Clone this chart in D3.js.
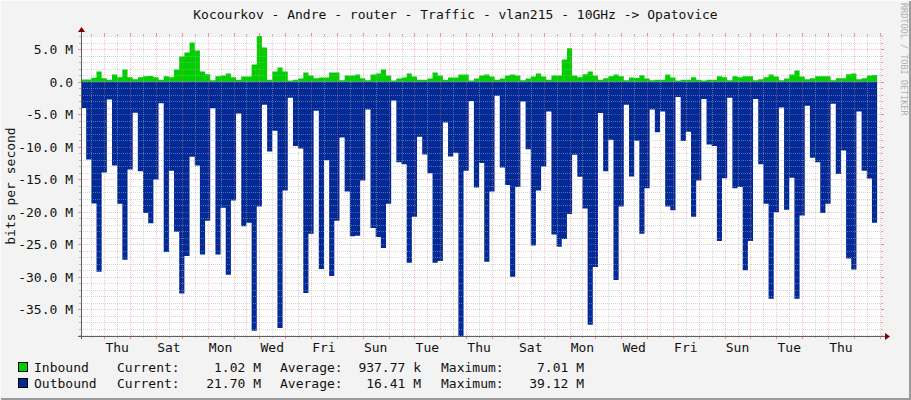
<!DOCTYPE html>
<html><head><meta charset="utf-8">
<script src="https://cdn.jsdelivr.net/npm/d3@7"></script>
<style>
html,body{margin:0;padding:0;background:#f3f3f3}
svg{display:block}
text{font-family:"DejaVu Sans Mono",monospace}
</style>
</head><body>
<svg id="c" width="911" height="400"></svg>
<script>
// ---- data (Mbit/s), one value per 4.8 h step ----
const inbound = [
0.31,0.31,0.6,1.54,0.5,0.3,1.08,0.67,1.85,0.67,0.36,0.67,0.82,0.87,0.67,0.3,0.82,0.67,1.85,3.85,4.47,6.0,4.78,1.54,1.13,0.2,0.82,0.92,1.23,0.67,0.3,
0.77,0.77,2.62,7.01,5.24,0.3,1.54,2.16,1.54,0.15,0.3,0.46,1.39,0.92,0.51,0.62,0.62,1.39,1.39,0.2,0.92,0.92,1.08,0.51,0.2,1.08,1.23,1.85,0.92,0.15,0.46,
0.62,1.23,0.77,0.3,0.3,0.46,1.39,0.92,0.3,0.62,0.62,1.08,1.08,0.15,0.46,0.92,1.08,0.77,0.3,0.46,0.92,1.08,0.92,0.2,0.46,0.77,1.23,0.77,0.3,0.92,0.92,
3.39,5.14,0.92,0.67,1.13,1.54,0.92,0.3,0.51,0.82,1.08,0.82,0.2,0.62,0.56,0.98,0.46,0.2,0.3,0.3,1.08,0.62,0.15,0.3,0.3,0.67,0.3,0.15,0.3,0.3,0.82,
0.67,0.2,0.82,0.67,0.82,0.82,0.2,0.36,0.67,1.08,0.77,0.2,0.46,1.08,1.7,0.77,0.36,0.51,0.82,0.82,0.82,0.2,0.51,0.51,1.13,1.23,0.36,0.51,0.92,1.02
];
const outbound = [
4.06,11.97,18.76,29.24,13.98,2.77,12.9,18.8,27.4,13.5,4.78,13.8,20.2,21.8,15.06,3.34,26.2,13.7,23.1,32.6,26.8,11.56,12.9,26.6,21.4,4.1,26.6,19.4,29.7,18.3,4.9,
22.25,21.7,38.3,19.2,3.55,10.74,7.55,37.9,16.75,2.5,9.9,10.3,32.5,23.4,4.5,28.8,12.1,29.9,21.4,8.6,16.9,23.8,23.7,15.2,4.3,22.5,23.9,25.6,18.8,2.9,12.4,
12.7,27.85,20.8,8.5,11.2,14.1,27.85,27.6,6.3,11.5,10.95,39.12,13.7,3.0,16.3,12.5,27.7,16.9,2.16,13.2,15.9,30.0,16.2,3.08,10.4,25.2,16.75,13.05,4.6,23.5,25.4,
24.2,20.35,11.25,14.65,19.5,37.4,28.5,4.83,13.8,8.94,30.5,19.2,3.55,14.6,9.1,23.4,16.4,4.3,7.8,4.6,19.2,19.8,2.36,9.15,7.7,20.8,15.2,2.67,9.66,9.9,24.5,
14.85,2.47,16.4,16.2,29.0,24.5,2.67,12.7,18.8,33.4,20.1,4.0,19.7,14.8,33.4,20.6,3.7,11.7,12.4,20.2,18.8,3.4,14.2,10.6,27.2,28.9,4.6,13.7,14.9,21.7
];
const yTickValues = [5,0,-5,-10,-15,-20,-25,-30,-35];
const yTickLabels = ["5.0 M","0.0","-5.0 M","-10.0 M","-15.0 M","-20.0 M","-25.0 M","-30.0 M","-35.0 M"];
const dayLabels = ["Thu","Sat","Mon","Wed","Fri","Sun","Tue","Thu","Sat","Mon","Wed","Fri","Sun","Tue","Thu"];
const seriesNames = ["Inbound","Outbound"];
const seriesColors = ["#00CF00","#002A97"];
const legendCurrent = ["1.02 M","21.70 M"];
const legendAverage = ["937.77 k","16.41 M"];
const legendMaximum = ["7.01 M","39.12 M"];
const titleText = "Kocourkov - Andre - router - Traffic - vlan215 - 10GHz -> Opatovice";

// ---- layout ----
const DAY = 864e5;
const day0 = Date.UTC(2012,2,1);           // a Thursday
const tStart = day0 - 0.9*DAY, tEnd = day0 + 30.05*DAY;
const stepMs = 0.2*DAY;
const X0=81, X1=881, YT=36, YB=336;

const svg = d3.select("#c");
const x = d3.scaleUtc().domain([new Date(tStart), new Date(tEnd)]).range([X0, X1]);
const y = d3.scaleLinear().domain([-39.12, 7.01]).range([YB, YT]);

// background & frame
svg.append("rect").attr("x",0).attr("y",0).attr("width",911).attr("height",400).attr("fill","#f3f3f3");
svg.append("rect").attr("x",X0).attr("y",YT).attr("width",X1-X0).attr("height",YB-YT).attr("fill","#ffffff");
svg.append("path").attr("d","M0,399V0H910").attr("stroke","#fcfcfc").attr("stroke-width",2).attr("fill","none");
svg.append("path").attr("d","M1,399H910V1").attr("stroke","#9b9b9b").attr("stroke-width",2).attr("fill","none");

// title
svg.append("text").attr("x",455.5).attr("y",19).attr("text-anchor","middle")
  .attr("font-size",13).attr("fill","#111").text(titleText);
// watermark
svg.append("text").attr("transform","translate(901,3) rotate(90)")
  .attr("font-size",8.5).attr("fill","#b0b0b0").text("RRDTOOL / TOBI OETIKER");

// data areas
const pts = (arr) => { const p = arr.map((v,i)=>[new Date(tStart+i*stepMs), v]); p.push([new Date(tStart+arr.length*stepMs), arr[arr.length-1]]); return p; };
const areaIn = d3.area().curve(d3.curveStepAfter).x(d=>x(d[0])).y0(y(0)).y1(d=>y(d[1]));
const areaOut = d3.area().curve(d3.curveStepAfter).x(d=>x(d[0])).y0(y(0)).y1(d=>y(-d[1]));
svg.append("path").attr("d",areaOut(pts(outbound))).attr("fill",seriesColors[1]);
svg.append("path").attr("d",areaIn(pts(inbound))).attr("fill",seriesColors[0]);

// grid
const g = svg.append("g").attr("shape-rendering","crispEdges");
const minorCol = "rgba(175,175,175,0.5)", majorCol = "rgba(245,110,110,0.45)";
const hours12 = d3.utcHour.every(12).range(new Date(tStart), new Date(tEnd));
const days = d3.utcDay.range(new Date(tStart), new Date(tEnd));
hours12.filter(d=>d.getUTCHours()!==0).forEach(d=>{
  const xx=Math.round(x(d))+0.5;
  g.append("line").attr("x1",xx).attr("x2",xx).attr("y1",YT).attr("y2",YB).attr("stroke",minorCol).attr("stroke-dasharray","1,1");
  g.append("line").attr("x1",xx).attr("x2",xx).attr("y1",YB).attr("y2",YB+2).attr("stroke","#b8b8b8");
  g.append("line").attr("x1",xx).attr("x2",xx).attr("y1",YT-2).attr("y2",YT).attr("stroke","#b8b8b8");
});
days.forEach(d=>{
  const xx=Math.round(x(d))+0.5;
  g.append("line").attr("x1",xx).attr("x2",xx).attr("y1",YT).attr("y2",YB).attr("stroke",majorCol).attr("stroke-dasharray","1,1");
  g.append("line").attr("x1",xx).attr("x2",xx).attr("y1",YB).attr("y2",YB+3).attr("stroke","#e89090");
  g.append("line").attr("x1",xx).attr("x2",xx).attr("y1",YT-3).attr("y2",YT).attr("stroke","#e89090");
});
d3.range(-39, 8, 1).filter(v=>v%5!==0).forEach(v=>{
  const yy=Math.round(y(v))+0.5;
  g.append("line").attr("x1",X0).attr("x2",X1).attr("y1",yy).attr("y2",yy).attr("stroke",minorCol).attr("stroke-dasharray","1,1");
  g.append("line").attr("x1",X0-2).attr("x2",X0).attr("y1",yy).attr("y2",yy).attr("stroke","#b8b8b8");
  g.append("line").attr("x1",X1).attr("x2",X1+2).attr("y1",yy).attr("y2",yy).attr("stroke","#b8b8b8");
});
yTickValues.forEach((v,i)=>{
  const yy=Math.round(y(v))+0.5;
  g.append("line").attr("x1",X0).attr("x2",X1).attr("y1",yy).attr("y2",yy).attr("stroke",majorCol).attr("stroke-dasharray","1,1");
  g.append("line").attr("x1",X0-3).attr("x2",X0).attr("y1",yy).attr("y2",yy).attr("stroke","#e89090");
  g.append("line").attr("x1",X1).attr("x2",X1+3).attr("y1",yy).attr("y2",yy).attr("stroke","#e89090");
  svg.append("text").attr("x",73).attr("y",yy+4.5).attr("text-anchor","end").attr("font-size",13).attr("fill","#111").text(yTickLabels[i]);
});

// x labels (centered at noon, every other day)
days.filter(d=>d>=day0).filter((d,i)=>i%2===0).forEach((d,i)=>{
  if(i>=dayLabels.length) return;
  const xx = x(new Date(+d + DAY/2));
  svg.append("text").attr("x",xx).attr("y",351.5).attr("text-anchor","middle").attr("font-size",13).attr("fill","#111").text(dayLabels[i]);
});

// axes
svg.append("line").attr("x1",X0-3).attr("x2",X1+4).attr("y1",YB+0.5).attr("y2",YB+0.5).attr("stroke","#606060").attr("shape-rendering","crispEdges");
svg.append("line").attr("x1",X0+0.5).attr("x2",X0+0.5).attr("y1",YB+3).attr("y2",YT-4).attr("stroke","#606060").attr("shape-rendering","crispEdges");
svg.append("path").attr("d",`M${X1+4},${YB-3}L${X1+9},${YB+0.5}L${X1+4},${YB+4}Z`).attr("fill","#800000");
svg.append("path").attr("d",`M${X0-3},${YT-4}L${X0+0.5},${YT-9}L${X0+4},${YT-4}Z`).attr("fill","#800000");

// y-axis title
svg.append("text").attr("transform",`translate(15,${(YT+YB)/2}) rotate(-90)`).attr("text-anchor","middle").attr("font-size",13).attr("fill","#111").text("bits per second");

// legend
const lg = svg.append("g").attr("fill","#111");
[0,1].forEach(i=>{
  const yy = 372 + i*16;
  lg.append("rect").attr("x",18.5).attr("y",yy-9.5).attr("width",9).attr("height",9).attr("fill",seriesColors[i]).attr("stroke","#000");
  lg.append("text").attr("x",34).attr("y",yy).attr("font-size",13).text(seriesNames[i]);
  lg.append("text").attr("x",117).attr("y",yy).attr("font-size",13).text("Current:");
  lg.append("text").attr("x",261).attr("y",yy).attr("text-anchor","end").attr("font-size",13).text(legendCurrent[i]);
  lg.append("text").attr("x",280).attr("y",yy).attr("font-size",13).text("Average:");
  lg.append("text").attr("x",421).attr("y",yy).attr("text-anchor","end").attr("font-size",13).text(legendAverage[i]);
  lg.append("text").attr("x",441).attr("y",yy).attr("font-size",13).text("Maximum:");
  lg.append("text").attr("x",584).attr("y",yy).attr("text-anchor","end").attr("font-size",13).text(legendMaximum[i]);
});
</script>
</body></html>
